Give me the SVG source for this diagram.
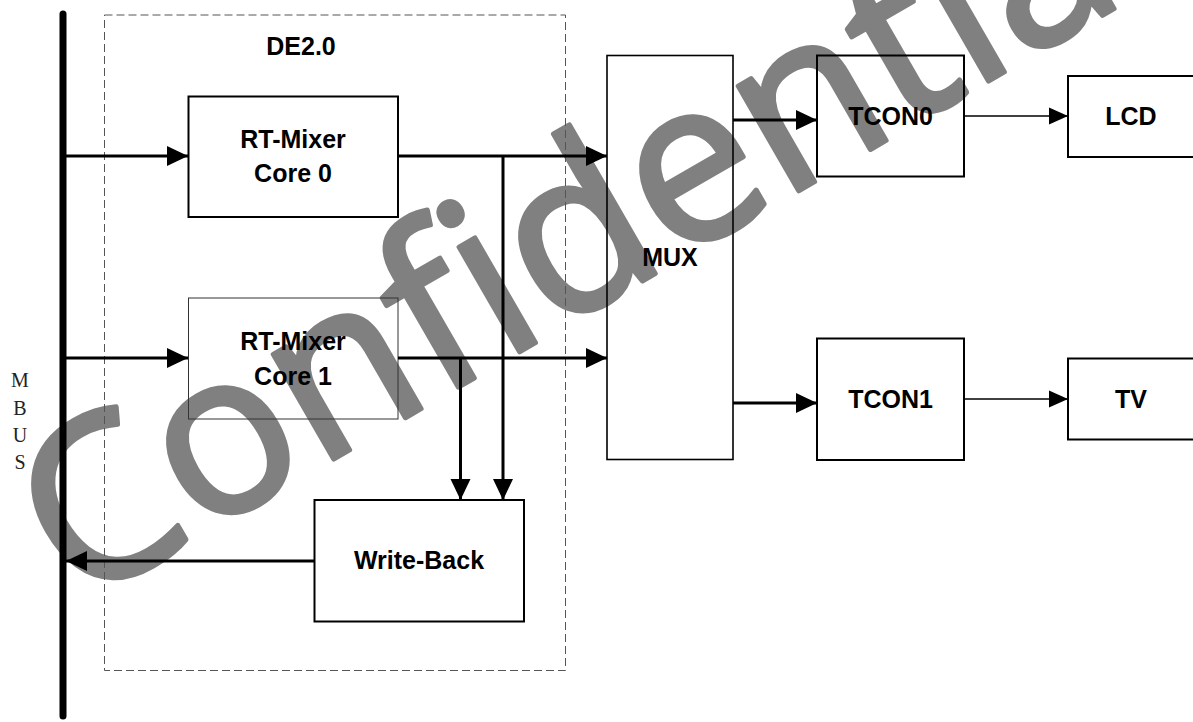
<svg xmlns="http://www.w3.org/2000/svg" width="1193" height="722" viewBox="0 0 1193 722">
<defs>
<style>
.box{fill:none;stroke:#000;stroke-width:2}
.lbl{font-family:"Liberation Sans",Arial,sans-serif;font-weight:bold;font-size:25px;fill:#000;text-anchor:middle}
.bus{font-family:"Liberation Serif","Times New Roman",serif;font-size:20px;fill:#222;text-anchor:middle}
.thick{fill:none;stroke:#000;stroke-width:3}
.thin{fill:none;stroke:#000;stroke-width:1.5}
.wm{font-family:"Open Sans","Noto Sans",sans-serif;font-size:226px;fill:#808080;stroke:#808080;stroke-width:5;stroke-linejoin:round}
</style>
<marker id="ah" markerUnits="userSpaceOnUse" markerWidth="22" markerHeight="22" refX="21" refY="10" orient="auto" viewBox="0 0 22 20">
<path d="M0,0 L21,10 L0,20 Z" fill="#000"/>
</marker>
<marker id="ahs" markerUnits="userSpaceOnUse" markerWidth="20" markerHeight="18" refX="19" refY="8.5" orient="auto" viewBox="0 0 20 17">
<path d="M0,0 L19,8.5 L0,17 Z" fill="#000"/>
</marker>
</defs>
<rect width="1193" height="722" fill="#fff"/>

<text class="wm" x="76" y="608" transform="rotate(-30 76 608)">Confidential</text>

<g id="de2-frame">
<rect x="104.5" y="15" width="461" height="655.5" fill="none" stroke="#555" stroke-width="1" stroke-dasharray="8,4"/>
<text class="lbl" x="301" y="55">DE2.0</text>
</g>

<g id="mbus">
<line x1="63" y1="14" x2="63" y2="716" stroke="#000" stroke-width="7" stroke-linecap="round"/>
<text class="bus" x="20" y="387">M</text>
<text class="bus" x="20" y="415">B</text>
<text class="bus" x="20" y="442">U</text>
<text class="bus" x="20" y="469">S</text>
</g>

<g id="core0">
<rect class="box" x="188.5" y="96.5" width="209.5" height="120.5"/>
<text class="lbl" x="293" y="148">RT-Mixer</text>
<text class="lbl" x="293" y="182">Core 0</text>
</g>

<g id="core1">
<rect x="188.5" y="298" width="209.5" height="121" fill="none" stroke="#333" stroke-width="1"/>
<text class="lbl" x="293" y="350">RT-Mixer</text>
<text class="lbl" x="293" y="385">Core 1</text>
</g>

<g id="writeback">
<rect class="box" x="314.5" y="500" width="209.5" height="121.5"/>
<text class="lbl" x="419" y="569">Write-Back</text>
</g>

<g id="mux">
<rect x="607" y="55.5" width="126" height="404" fill="none" stroke="#000" stroke-width="1.6"/>
<text class="lbl" x="670" y="266">MUX</text>
</g>

<g id="tcon0">
<rect class="box" x="817" y="55.5" width="147" height="121"/>
<text class="lbl" x="890.5" y="124.5">TCON0</text>
</g>

<g id="tcon1">
<rect class="box" x="817" y="338.5" width="147" height="121.5"/>
<text class="lbl" x="890.5" y="408">TCON1</text>
</g>

<g id="lcd">
<rect class="box" x="1068" y="76" width="140" height="81"/>
<text class="lbl" x="1131" y="124.5">LCD</text>
</g>

<g id="tv">
<rect class="box" x="1068" y="358.5" width="140" height="81"/>
<text class="lbl" x="1131" y="408">TV</text>
</g>

<g id="connectors">
<line class="thick" x1="66" y1="156" x2="188" y2="156" marker-end="url(#ah)"/>
<line class="thick" x1="398" y1="156" x2="607" y2="156" marker-end="url(#ah)"/>
<line class="thick" x1="503" y1="156" x2="503" y2="500" marker-end="url(#ah)"/>
<line class="thick" x1="66" y1="358" x2="188" y2="358" marker-end="url(#ah)"/>
<line class="thick" x1="398" y1="358" x2="607" y2="358" marker-end="url(#ah)"/>
<line class="thick" x1="460.5" y1="358" x2="460.5" y2="500" marker-end="url(#ah)"/>
<line class="thick" x1="314" y1="561" x2="66" y2="561" marker-end="url(#ah)"/>
<line class="thick" x1="733" y1="120" x2="817" y2="120" marker-end="url(#ah)"/>
<line class="thick" x1="733" y1="403" x2="817" y2="403" marker-end="url(#ah)"/>
<line class="thin" x1="964" y1="116" x2="1068" y2="116" marker-end="url(#ahs)"/>
<line class="thin" x1="964" y1="399" x2="1068" y2="399" marker-end="url(#ahs)"/>
</g>
</svg>
